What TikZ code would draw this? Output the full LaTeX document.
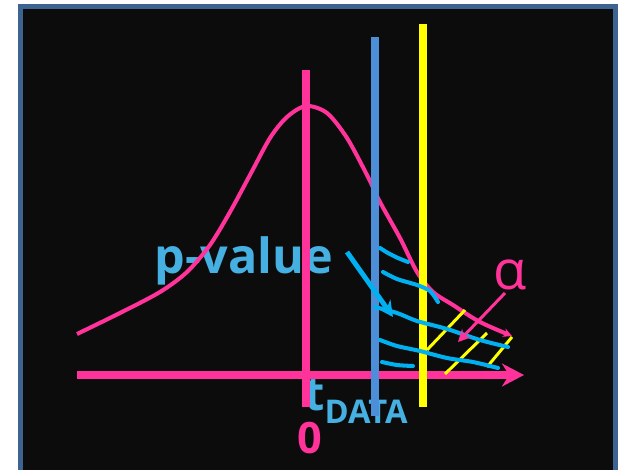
\documentclass[tikz,border=0pt]{standalone}
\usepackage{fontspec}
\setmainfont{Open Sans}
\usetikzlibrary{arrows.meta,positioning}
\definecolor{PvBack}{HTML}{0C0C0C}
\definecolor{PvFrame}{HTML}{3D6491}
\definecolor{PvPink}{HTML}{FF3399}
\definecolor{PvYellow}{HTML}{FFFF00}
\definecolor{PvSteel}{HTML}{4C8ED8}
\definecolor{PvText}{HTML}{45B0E1}
\definecolor{PvCyan}{HTML}{00B0F0}

\begin{document}
\begin{tikzpicture}[x=0.02cm,y=-0.02cm]
    \tikzset{
      vbar/.style={line width=4.4pt},
      bellline/.style={draw=PvPink,line width=2.3pt},
      hatchblue/.style={draw=PvCyan,line width=2.3pt,line cap=round,line join=round},
      hatchyellow/.style={draw=PvYellow,line width=1.7pt},
      txt/.style={inner sep=0pt,font=\bfseries}
    }
    \useasboundingbox (0,0) rectangle (619,470);
    \fill[PvFrame] (18,4) rectangle (618,470);
    \fill[PvBack] (23,9) rectangle (613,470);
    % labels
    \node[txt,text=PvText,font=\bfseries\fontsize{27.6}{30}\selectfont,anchor=base west]
      (pval) at (154,273) {p-value};
    \node[txt,text=PvText,font=\bfseries\fontsize{26.6}{30}\selectfont,anchor=base west]
      (tdata) at (304,410) {t\raisebox{-7.4pt}{\fontsize{18.6}{20}\selectfont DATA}};
    \node[txt,text=PvPink,font=\bfseries\fontsize{24.6}{28}\selectfont,anchor=base]
      (zero) at (309.5,453) {0};
    \node[txt,text=PvPink,font=\fontsize{31}{34}\selectfont,anchor=base]
      (alpha) at (510,289) {α};
    % bell curve
    \draw[bellline,-{Stealth[length=5pt,width=5pt]}] plot[smooth] coordinates {
      (77,334) (120,313) (160,292) (187,272) (210,245) (230,212) (250,175)
      (270,138) (287,117) (306,106) (327,113) (347,138) (367,175) (380,202)
      (400,238) (417,272) (433,292) (453,305) (480,322) (512,336)};
    % axis and markers
    \coordinate (axl) at (77,375);
    \coordinate (axr) at (524,375);
    \draw[vbar,PvPink,-{Stealth[length=12.5pt,width=13pt]}] (axl) -- (axr);
    \draw[vbar,PvPink] (306,70) -- (306,407);
    \draw[vbar,PvSteel] (375,37) -- (375,416);
    \draw[vbar,PvYellow] (423,24) -- (423,407);
    % alpha region
    \draw[hatchyellow] (427,350) -- (465,310);
    \draw[hatchyellow] (445,374) -- (487,333);
    \draw[hatchyellow] (487,367) -- (512,337);
    % p-value region
    \draw[hatchblue] plot[smooth] coordinates {(380,248) (388,253) (398,258) (408,262)};
    \draw[hatchblue] plot[smooth] coordinates {(383,272) (397,279) (417,285) (430,291) (438,302)};
    \draw[hatchblue] plot[smooth] coordinates {(375,307) (397,313) (417,321) (447,329) (480,340) (508,347)};
    \draw[hatchblue] plot[smooth] coordinates {(380,340) (397,346) (420,351) (447,358) (473,362) (498,368)};
    \draw[hatchblue] plot[smooth] coordinates {(382,362) (397,365) (413,366)};
    % pointers
    \coordinate (pvtail) at (347,252);
    \coordinate (pvtip) at (393,317);
    \draw[PvCyan,line width=2.8pt,-{Stealth[length=9pt,width=9pt]}] (pvtail) -- (pvtip);
    \coordinate (altail) at (505,293);
    \coordinate (altip) at (458,342);
    \draw[PvPink,line width=1.7pt,-{Stealth[length=7pt,width=7pt]}] (altail) -- (altip);
\end{tikzpicture}
\end{document}
